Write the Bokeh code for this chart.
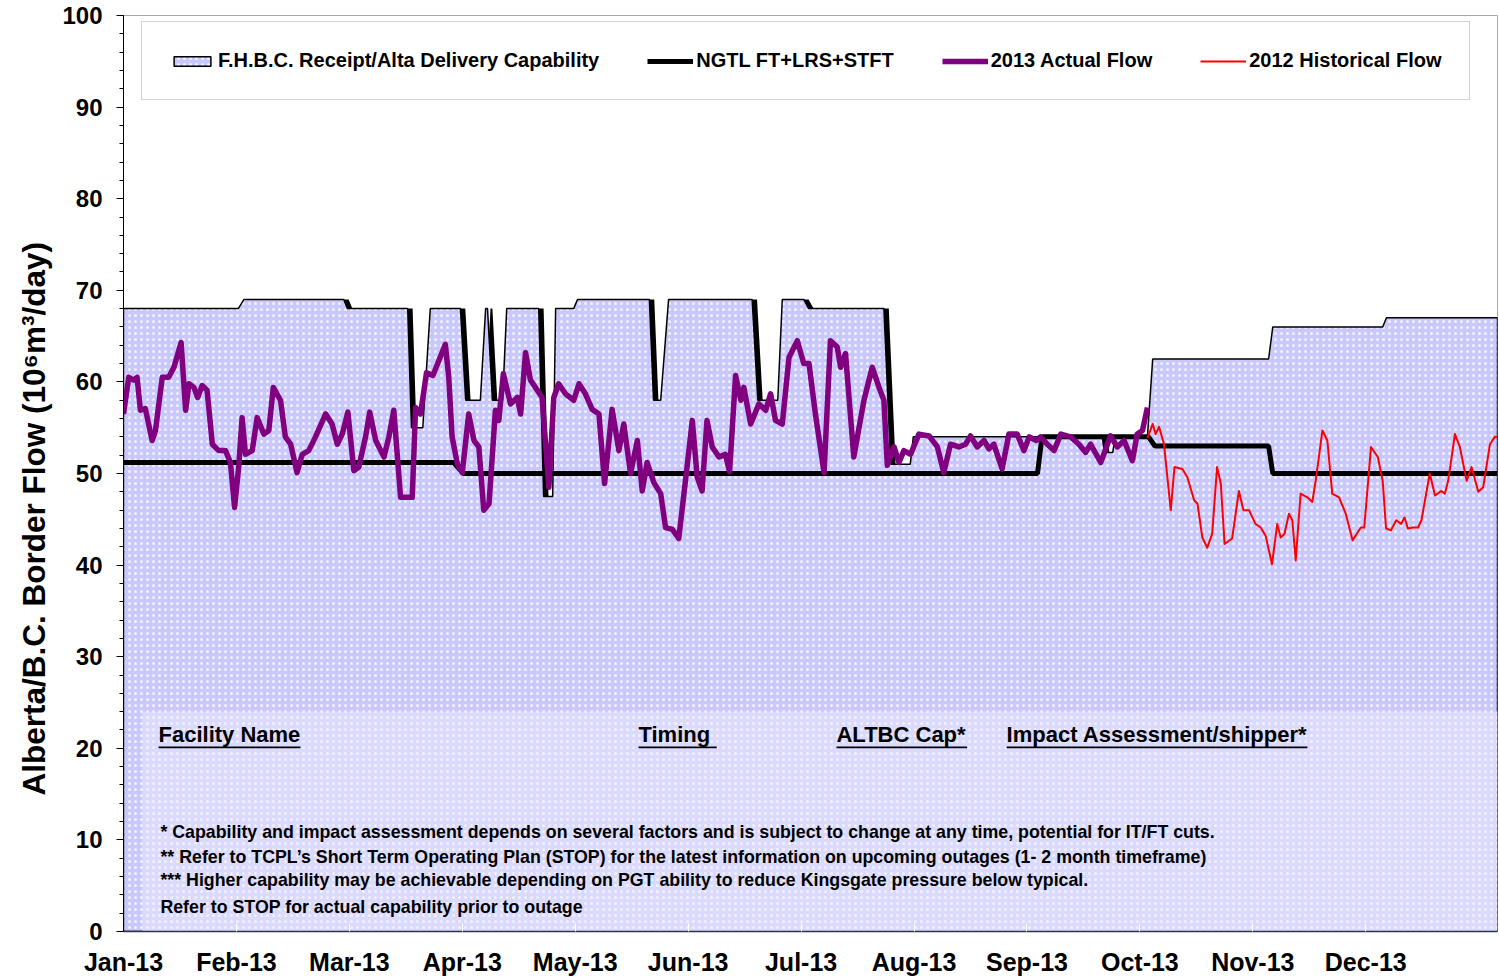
from bokeh.plotting import figure
from bokeh.models import (ColumnDataSource, FixedTicker, SingleIntervalTicker, Legend,
                          LegendItem, Label, BoxAnnotation, Range1d, Title)
from bokeh.transform import dodge
from bokeh.embed import file_html
from bokeh.resources import INLINE

FONT = "Liberation Sans"

# ---------------- data (day of year 2013, 10^6 m3/day) ----------------
month_ticks = [0, 30, 60, 90, 120, 150, 180, 210, 240, 270, 300, 330]
month_labels = ["Jan-13", "Feb-13", "Mar-13", "Apr-13", "May-13", "Jun-13",
                "Jul-13", "Aug-13", "Sep-13", "Oct-13", "Nov-13", "Dec-13"]

# F.H.B.C. Receipt / Alta Delivery Capability (step series)
cap_day = [0, 30.5, 32, 58.5, 59.5, 75.5, 76.5, 79.5, 81.5, 89.5, 90.9, 94.8, 96.2, 96.7,
           98, 100.7, 101.8, 110.3, 111.6, 114, 114.8, 119.6, 120.6, 139.7, 140.8, 142.7,
           144.8, 167, 168.5, 173.8, 175, 180.7, 182, 202, 203.8, 209, 209.8, 260.0, 260.6,
           262.8, 263.4, 272, 273.4, 304.2, 305.3, 334.5, 335.5, 365]
cap_val = [68, 68, 69, 69, 68, 68, 55, 55, 68, 68, 58, 58, 68, 68,
           58, 58, 68, 68, 47.5, 47.5, 68, 68, 69, 69, 58, 58,
           69, 69, 58, 58, 69, 69, 68, 68, 51, 51, 54, 54, 52.3,
           52.3, 54, 54, 62.5, 62.5, 66, 66, 67, 67]

# NGTL FT+LRS+STFT
ngtl_day = [0, 87.7, 90.3, 242.8, 244, 272.3, 274, 304.2, 305.3, 365]
ngtl_val = [51.2, 51.2, 50, 50, 54, 54, 53, 53, 50, 50]

# 2013 Actual Flow
act_day = [0, 1.4, 2.7, 3.6, 4.5, 5.8, 7.6, 8.5, 10.3, 12.0, 13.4, 15.3, 16.5, 17.4, 18.7,
           19.7, 20.9, 22.2, 23.6, 25.3, 27.1, 28.4, 29.5, 30.6, 31.5, 32.4, 34.2, 35.5,
           37.3, 38.6, 39.8, 41.7, 43.0, 44.4, 46.1, 47.5, 49.2, 51.0, 53.7, 55.4, 56.8,
           58.1, 59.6, 61.2, 62.5, 64.3, 65.4, 67.0, 69.2, 70.5, 71.8, 73.6, 75.4, 76.7,
           77.6, 78.9, 80.5, 82.2, 85.5, 86.4, 87.3, 88.7, 90.0, 91.7, 93.1, 94.4, 95.7,
           97.1, 98.8, 99.7, 100.9, 102.8, 104.6, 105.5, 106.8, 108.1, 109.9, 111.2, 113.0,
           114.3, 115.6, 117.4, 119.6, 121.0, 122.7, 124.5, 126.3, 127.8, 129.8, 131.6,
           132.9, 134.7, 136.5, 137.8, 139.1, 140.9, 142.7, 144.0, 145.8, 147.5, 149.7,
           151.1, 152.4, 153.7, 155.0, 156.4, 158.2, 159.9, 161.0, 162.6, 164.0, 164.8,
           166.6, 168.8, 170.6, 171.9, 173.2, 175.0, 176.8, 179.0, 180.7, 182.1, 183.8,
           186.1, 187.8, 189.6, 190.5, 191.8, 194.0, 196.7, 198.9, 200.7, 202.0, 202.9,
           204.7, 206.0, 207.3, 209.1, 211.3, 214.0, 216.2, 217.9, 219.7, 221.9, 223.7,
           225.0, 226.8, 228.6, 229.9, 231.2, 233.4, 235.2, 237.4, 239.2, 240.6, 242.5,
           243.6, 245.4, 247.2, 249.0, 251.6, 253.8, 255.6, 256.9, 259.6, 262.2, 264.0,
           265.8, 268.0, 269.3, 270.7, 272.0]
act_val = [56.5, 60.5, 60.2, 60.5, 56.9, 57.1, 53.6, 54.7, 60.5, 60.5, 61.6, 64.3, 56.9, 59.8, 59.4,
           58.3, 59.6, 59.1, 53.2, 52.5, 52.5, 51.2, 46.3, 50.7, 56.1, 52.1, 52.5, 56.1,
           54.3, 54.7, 59.4, 58.0, 54.0, 53.2, 50.1, 52.1, 52.5, 54.0, 56.5, 55.4, 53.2,
           54.3, 56.7, 50.3, 50.7, 54.0, 56.7, 53.6, 51.8, 54.0, 56.9, 47.4, 47.4, 47.4,
           57.2, 56.5, 61.0, 60.7, 64.1, 60.5, 54.0, 51.0, 50.1, 56.5, 53.6, 52.9, 46.0,
           46.7, 56.9, 55.8, 60.9, 57.6, 58.3, 56.5, 63.2, 60.2, 59.1, 58.3, 48.5,
           58.3, 59.8, 58.7, 58.0, 59.8, 58.7, 57.0, 56.5, 48.9, 57.0, 52.5,
           55.4, 50.0, 53.6, 48.1, 51.2, 49.0, 47.8, 44.1, 43.9, 42.9, 50.7,
           55.8, 49.6, 48.1, 55.8, 52.9, 51.8, 52.1, 50.2, 60.7, 58.0, 59.4,
           55.4, 57.6, 56.9, 58.7, 55.8, 55.4, 62.7, 64.5, 62.0, 62.0, 56.5,
           50.1, 64.5, 63.8, 61.6, 63.1, 51.8, 58.0, 61.6, 59.4, 58.0, 50.9,
           52.9, 51.2, 52.5, 52.1, 54.3, 54.1, 52.9, 50.1, 53.2, 52.9, 53.2,
           54.1, 52.9, 53.6, 52.7, 53.2, 50.5, 54.3, 54.3, 52.5, 54.0, 53.6,
           54.0, 53.2, 52.5, 54.3, 54.0, 53.2, 52.3, 53.2, 51.2, 54.1, 52.9,
           53.6, 51.4, 54.3, 54.7, 57.2]

# 2012 Historical Flow (shown for the remainder of the year)
hist_day = [272.0, 273.4, 274.2, 275.1, 276.4, 278.2, 279.2, 281.3, 282.6, 284.4, 285.3, 286.6,
            287.9, 289.2, 290.5, 291.5, 292.5, 294.5, 296.3, 297.5, 299.0, 300.7, 302.1,
            303.4, 305.1, 306.5, 307.4, 308.4, 309.6, 310.5, 311.4, 312.7, 314.5, 315.8,
            316.7, 318.5, 319.8, 321.1, 322.9, 324.7, 326.5, 328.7, 329.6, 331.4, 333.2,
            334.5, 335.4, 336.7, 338.1, 339.4, 340.3, 341.2, 342.5, 343.9, 344.8, 347.0,
            348.4, 350.1, 351.0, 351.9, 353.7, 355.0, 356.8, 358.1, 359.9, 361.2, 363.0,
            364.3, 365.0]
hist_val = [53.9, 55.4, 54.3, 55.1, 53.2, 46.0, 50.7, 50.5, 49.6, 47.1, 46.7, 43.0,
            41.9, 43.4, 50.7, 48.9, 42.3, 42.9, 48.1, 46.0, 46.0, 44.5, 44.1,
            43.2, 40.1, 44.5, 43.0, 43.4, 45.6, 44.9, 40.5, 47.8, 47.4, 46.9,
            49.2, 54.7, 53.6, 47.8, 47.4, 45.6, 42.7, 44.1, 44.1, 52.9, 51.8,
            49.2, 44.0, 43.8, 44.9, 44.5, 45.2, 44.0, 44.1, 44.1, 44.9, 50.0,
            47.6, 48.1, 47.8, 49.2, 54.3, 52.9, 49.2, 50.7, 48.0, 48.5, 53.2,
            54.0, 54.0]

y_title = "Alberta/B.C.  Border Flow (10\u2076m\u00b3/day)"
table_headers = ["Facility Name", "Timing", "ALTBC Cap*", "Impact Assessment/shipper*"]
footnotes = [
    "* Capability and impact assessment depends on several factors and is subject to change at any time, potential for IT/FT cuts.",
    "** Refer to TCPL\u2019s Short Term Operating Plan (STOP) for the latest information on upcoming outages (1- 2 month timeframe)",
    "*** Higher capability may be achievable depending on PGT ability to reduce Kingsgate pressure below  typical.",
    " Refer to STOP for actual capability prior to outage",
]

# ---------------- figure ----------------
p = figure(width=1499, height=980, x_range=Range1d(0, 365), y_range=Range1d(0, 100),
           output_backend="svg", toolbar_location=None,
           min_border_left=123, min_border_right=2, min_border_top=15, min_border_bottom=49)
p.background_fill_color = "white"
p.border_fill_color = "white"
p.outline_line_color = "#A8A8A8"
p.outline_line_width = 1
p.xgrid.visible = False
p.ygrid.visible = False

poly_src = ColumnDataSource(dict(x=cap_day + [cap_day[-1], cap_day[0]],
                                 y=cap_val + [0, 0]))

# shadow of the capability area
p.patch(x=dodge("x", 1.3), y="y", source=poly_src, fill_color="black", line_color=None)
area = p.patch(x="x", y="y", source=poly_src, fill_color="#C8C8FF", line_color="black",
               line_width=1.5, hatch_pattern="dot", hatch_color="white", hatch_alpha=0.75,
               hatch_scale=6, hatch_weight=1.3)

# table panel
p.add_layout(BoxAnnotation(left=5, top=24, fill_color="#DADAFF", fill_alpha=1.0,
                           line_color=None, hatch_pattern="dot", hatch_color="white",
                           hatch_alpha=0.6, hatch_scale=6, hatch_weight=1.3, level="glyph"))

ngtl = p.line(ngtl_day, ngtl_val, line_color="black", line_width=5)
act = p.line(act_day, act_val, line_color="#800080", line_width=5.5, line_join="round")
hist = p.line(hist_day, hist_val, line_color="#FF0000", line_width=2, line_join="round")

# axes
p.xaxis.ticker = FixedTicker(ticks=month_ticks)
p.xaxis.major_label_overrides = {t: l for t, l in zip(month_ticks, month_labels)}
p.xaxis.major_label_text_font = FONT
p.xaxis.major_label_text_font_size = "25px"
p.xaxis.major_label_text_font_style = "bold"
p.xaxis.major_label_text_color = "black"
p.xaxis.major_label_standoff = 16
p.xaxis.major_tick_in = 8
p.xaxis.major_tick_out = 0
p.xaxis.major_tick_line_color = "white"
p.xaxis.minor_tick_line_color = None
p.xaxis.axis_line_color = "#303050"
p.xaxis.axis_line_width = 1.5

p.yaxis.ticker = SingleIntervalTicker(interval=10, num_minor_ticks=5)
p.yaxis.major_label_text_font = FONT
p.yaxis.major_label_text_font_size = "24px"
p.yaxis.major_label_text_font_style = "bold"
p.yaxis.major_label_text_color = "black"
p.yaxis.major_label_standoff = 14
p.yaxis.major_tick_out = 7
p.yaxis.major_tick_in = 0
p.yaxis.minor_tick_out = 4
p.yaxis.minor_tick_in = 0
p.yaxis.axis_line_color = "black"
p.yaxis.major_tick_line_color = "black"
p.yaxis.minor_tick_line_color = "black"

# y-axis title as a left-side title, starting a little above the frame bottom
p.add_layout(Title(text=y_title, align="left", offset=136, standoff=16,
                   text_font=FONT, text_font_size="31.5px", text_font_style="bold",
                   text_color="black"), "left")

# legend
legend = Legend(items=[
    LegendItem(label="F.H.B.C. Receipt/Alta Delivery Capability", renderers=[area]),
    LegendItem(label="NGTL FT+LRS+STFT", renderers=[ngtl]),
    LegendItem(label="2013 Actual Flow", renderers=[act]),
    LegendItem(label="2012 Historical Flow", renderers=[hist]),
], location=(18, 831), orientation="horizontal", padding=27, spacing=48,
    glyph_width=46, glyph_height=12, label_standoff=3, label_height=20,
    label_text_font=FONT, label_text_font_size="20px", label_text_font_style="bold",
    label_text_color="black", border_line_color="#A8A8A8", border_line_width=1,
    background_fill_color="white", background_fill_alpha=1.0, margin=0)
p.add_layout(legend)

# table headers with underlines
hdr_x = [9.3, 136.8, 189.4, 234.6]
hdr_w = [37.7, 20.8, 34.7, 79.9]
for t, hx, hw in zip(table_headers, hdr_x, hdr_w):
    p.add_layout(Label(x=hx, y=21.5, text=t, text_font=FONT, text_font_size="22px",
                       text_font_style="bold", text_color="black", text_baseline="middle"))
    p.add_layout(BoxAnnotation(left=hx, right=hx + hw, bottom=20.0, top=20.2,
                               fill_color="black", fill_alpha=1.0, line_color=None))

foot_y = [10.9, 8.1, 5.6, 2.7]
for t, fy in zip(footnotes, foot_y):
    p.add_layout(Label(x=9.8, y=fy, text=t, text_font=FONT, text_font_size="17.8px",
                       text_font_style="bold", text_color="black", text_baseline="middle"))

open("out.html", "w").write(file_html(p, INLINE))
